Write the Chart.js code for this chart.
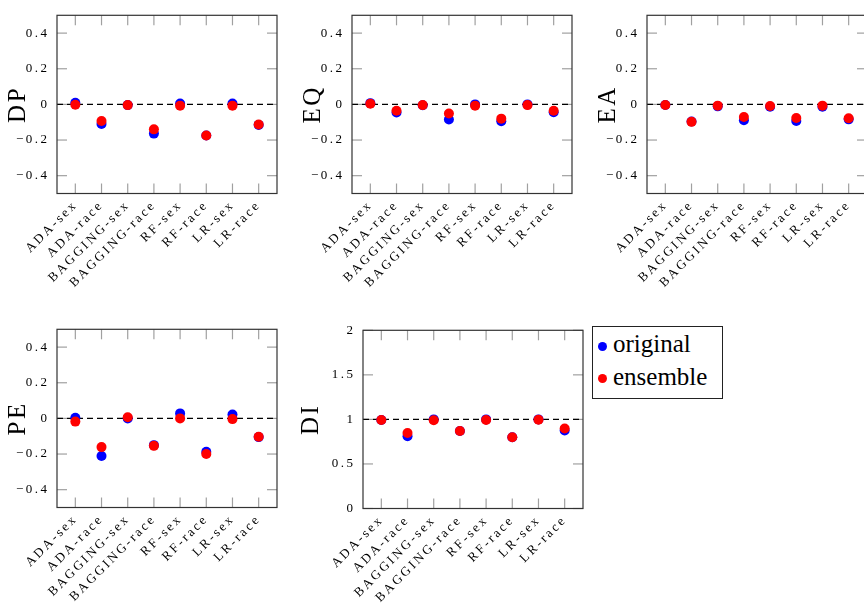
<!DOCTYPE html>
<html>
<head>
<meta charset="utf-8">
<script src="https://cdn.jsdelivr.net/npm/chart.js@4"></script>
<style>
  html, body { margin: 0; padding: 0; background: #fff; }
  body { width: 864px; height: 611px; position: relative; overflow: hidden; }
  canvas { position: absolute; }
  #legend {
    position: absolute; left: 592px; top: 326px; width: 131px; height: 73px;
    box-sizing: border-box; border: 1px solid #222;
    font-family: "Liberation Serif", serif; font-size: 25px; color: #000;
  }
  .item { position: absolute; left: 20px; height: 30px; line-height: 30px; white-space: nowrap; }
  .dot { position: absolute; left: 5px; width: 9px; height: 9px; border-radius: 50%; }
</style>
</head>
<body>
<div id="legend"></div>
<script>
const categories = ['ADA-sex', 'ADA-race', 'BAGGING-sex', 'BAGGING-race', 'RF-sex', 'RF-race', 'LR-sex', 'LR-race'];
const seriesNames = ['original', 'ensemble'];
const seriesColors = ['#0000ff', '#ff0000'];

const dpOriginal = [0.009, -0.110, -0.004, -0.164, 0.005, -0.175, 0.005, -0.115];
const dpEnsemble = [-0.002, -0.093, -0.004, -0.140, -0.007, -0.175, -0.007, -0.113];
const eqOriginal = [0.007, -0.045, -0.005, -0.085, 0.000, -0.095, 0.000, -0.044];
const eqEnsemble = [0.004, -0.036, -0.004, -0.051, -0.007, -0.080, -0.004, -0.036];
const eaOriginal = [-0.003, -0.096, -0.011, -0.089, -0.013, -0.093, -0.013, -0.084];
const eaEnsemble = [-0.003, -0.098, -0.007, -0.071, -0.009, -0.076, -0.007, -0.078];
const peOriginal = [0.004, -0.211, 0.000, -0.150, 0.028, -0.187, 0.022, -0.105];
const peEnsemble = [-0.018, -0.161, 0.006, -0.154, 0.000, -0.200, -0.004, -0.103];
const diOriginal = [0.993, 0.810, 1.000, 0.870, 1.000, 0.800, 1.000, 0.876];
const diEnsemble = [0.993, 0.847, 0.990, 0.870, 0.993, 0.800, 0.996, 0.898];

const diffTicks = [-0.4, -0.2, 0, 0.2, 0.4];
const diffTickLabels = ['\u22120.4', '\u22120.2', '0', '0.2', '0.4'];
const diffRange = [-0.5, 0.5];
const ratioTicks = [0, 0.5, 1, 1.5, 2];
const ratioTickLabels = ['0', '0.5', '1', '1.5', '2'];
const ratioRange = [0, 2];

// panel layout (plot area positions in page pixels)
const panels = [
  { title: 'DP', original: dpOriginal, ensemble: dpEnsemble, ticks: diffTicks, labels: diffTickLabels, range: diffRange, base: 0, left: 57, top: 11, yWidth: 57, height: 310 },
  { title: 'EQ', original: eqOriginal, ensemble: eqEnsemble, ticks: diffTicks, labels: diffTickLabels, range: diffRange, base: 0, left: 352.3, top: 11, yWidth: 57, height: 310 },
  { title: 'EA', original: eaOriginal, ensemble: eaEnsemble, ticks: diffTicks, labels: diffTickLabels, range: diffRange, base: 0, left: 646.7, top: 11, yWidth: 57, height: 310 },
  { title: 'PE', original: peOriginal, ensemble: peEnsemble, ticks: diffTicks, labels: diffTickLabels, range: diffRange, base: 0, left: 57, top: 325.3, yWidth: 57, height: 297 },
  { title: 'DI', original: diOriginal, ensemble: diEnsemble, ticks: ratioTicks, labels: ratioTickLabels, range: ratioRange, base: 1, left: 363.3, top: 325.5, yWidth: 70, height: 297 }
];

const PLOT_W = 220;
const PLOT_H = 182.5;
const FONT = 'Liberation Serif';

function line(ctx, x1, y1, x2, y2) {
  ctx.beginPath();
  ctx.moveTo(x1, y1);
  ctx.lineTo(x2, y2);
  ctx.stroke();
}

function framePlugin(base) {
  return {
    id: 'frame',
    beforeDraw(chart) {
      chart.ctx.letterSpacing = '2.5px';
    },
    beforeDatasetsDraw(chart) {
      const { ctx, chartArea: a, scales: { x, y } } = chart;
      ctx.save();
      ctx.letterSpacing = '0px';
      // pgfplots style inner ticks
      ctx.strokeStyle = '#a0a0a0';
      ctx.lineWidth = 1.2;
      y.ticks.forEach(t => {
        const py = y.getPixelForValue(t.value);
        line(ctx, a.left, py, a.left + 10, py);
        line(ctx, a.right - 10, py, a.right, py);
      });
      x.ticks.forEach(t => {
        const px = x.getPixelForValue(t.value);
        line(ctx, px, a.top, px, a.top + 10);
        line(ctx, px, a.bottom - 10, px, a.bottom);
      });
      // dashed reference line
      const yb = y.getPixelForValue(base);
      ctx.strokeStyle = '#000';
      ctx.setLineDash([6, 4]);
      line(ctx, a.left, yb, a.right, yb);
      ctx.setLineDash([]);
      // box
      ctx.strokeStyle = '#333';
      ctx.strokeRect(a.left, a.top, a.right - a.left, a.bottom - a.top);
      ctx.restore();
    }
  };
}

function makePanel(p) {
  const canvas = document.createElement('canvas');
  const width = p.yWidth + PLOT_W + 13;
  canvas.width = width;
  canvas.height = p.height;
  canvas.style.left = (p.left - p.yWidth) + 'px';
  canvas.style.top = (p.top - 11) + 'px';
  canvas.style.width = width + 'px';
  canvas.style.height = p.height + 'px';
  document.body.appendChild(canvas);

  const xHeight = p.height - 11 - PLOT_H;

  new Chart(canvas, {
    type: 'scatter',
    data: {
      datasets: [p.original, p.ensemble].map((vals, k) => ({
        label: seriesNames[k],
        data: vals.map((v, i) => ({ x: i, y: v })),
        order: 1 - k, // ensemble drawn on top
        backgroundColor: seriesColors[k],
        borderColor: seriesColors[k],
        borderWidth: 0,
        pointRadius: 5,
        pointHoverRadius: 5
      }))
    },
    options: {
      responsive: false,
      animation: false,
      layout: { padding: { top: 11, right: 13, left: 0, bottom: 0 } },
      plugins: { legend: { display: false }, tooltip: { enabled: false } },
      scales: {
        x: {
          type: 'linear',
          min: -0.7,
          max: 7.7,
          grid: { display: false, drawTicks: false },
          border: { display: false },
          afterBuildTicks: s => { s.ticks = categories.map((c, i) => ({ value: i })); },
          afterFit: s => { s.height = xHeight; },
          ticks: {
            autoSkip: false,
            minRotation: 45,
            maxRotation: 45,
            padding: 4,
            color: '#000',
            font: { family: FONT, size: 13 },
            callback: v => categories[v]
          }
        },
        y: {
          min: p.range[0],
          max: p.range[1],
          grid: { display: false, drawTicks: false },
          border: { display: false },
          afterBuildTicks: s => { s.ticks = p.ticks.map(v => ({ value: v })); },
          afterFit: s => { s.width = p.yWidth; },
          ticks: {
            padding: 7.5,
            color: '#000',
            font: { family: FONT, size: 13 },
            callback: (v, i) => p.labels[i]
          },
          title: {
            display: true,
            text: p.title,
            color: '#000',
            font: { family: FONT, size: 25 },
            padding: { top: 3.5, bottom: 0 }
          }
        }
      }
    },
    plugins: [framePlugin(p.base)]
  });
}

panels.forEach(makePanel);

// legend box
const legend = document.getElementById('legend');
const itemTops = [1.6, 34.6];
const dotTops = [15.2, 46.8];
seriesNames.forEach((name, k) => {
  const dot = document.createElement('div');
  dot.className = 'dot';
  dot.style.top = dotTops[k] + 'px';
  dot.style.background = seriesColors[k];
  legend.appendChild(dot);
  const item = document.createElement('div');
  item.className = 'item';
  item.style.top = itemTops[k] + 'px';
  item.textContent = name;
  legend.appendChild(item);
});
</script>
</body>
</html>
